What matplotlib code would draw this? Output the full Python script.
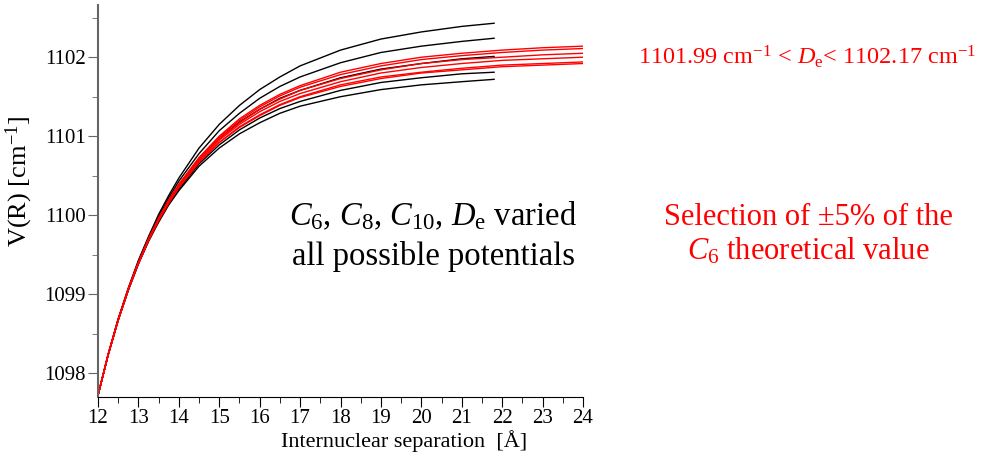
import matplotlib
matplotlib.use("Agg")
import matplotlib.pyplot as plt
from matplotlib.ticker import MultipleLocator

r_black = [12, 12.25, 12.5, 12.75, 13, 13.25, 13.5, 13.75, 14, 14.5, 15, 15.5,
           16, 16.5, 17, 18, 19, 20, 21, 21.8]
r_red = [12, 12.25, 12.5, 12.75, 13, 13.25, 13.5, 13.75, 14, 14.5, 15, 15.5,
         16, 16.5, 17, 18, 19, 20, 21, 22, 23, 24]

# all possible potentials (black)
black_curves = [
    [1097.72, 1098.24, 1098.69, 1099.08, 1099.43, 1099.73, 1100.01, 1100.25, 1100.47, 1100.85,
     1101.15, 1101.39, 1101.59, 1101.75, 1101.89, 1102.09, 1102.23, 1102.32, 1102.39, 1102.43],
    [1097.72, 1098.23, 1098.68, 1099.07, 1099.41, 1099.71, 1099.98, 1100.22, 1100.43, 1100.78,
     1101.07, 1101.29, 1101.48, 1101.63, 1101.75, 1101.93, 1102.06, 1102.14, 1102.20, 1102.24],
    [1097.72, 1098.23, 1098.68, 1099.06, 1099.40, 1099.69, 1099.95, 1100.18, 1100.38, 1100.71,
     1100.97, 1101.18, 1101.34, 1101.48, 1101.58, 1101.74, 1101.85, 1101.92, 1101.98, 1102.01],
    [1097.72, 1098.23, 1098.67, 1099.05, 1099.39, 1099.67, 1099.93, 1100.14, 1100.33, 1100.65,
     1100.89, 1101.08, 1101.23, 1101.35, 1101.44, 1101.58, 1101.68, 1101.74, 1101.79, 1101.81],
    [1097.72, 1098.23, 1098.67, 1099.05, 1099.38, 1099.67, 1099.91, 1100.13, 1100.31, 1100.62,
     1100.85, 1101.03, 1101.17, 1101.29, 1101.38, 1101.50, 1101.59, 1101.65, 1101.69, 1101.72],
]

# selection of +-5% of the C6 theoretical value (red)
red_curves = [
    [1097.72, 1098.23, 1098.68, 1099.07, 1099.40, 1099.70, 1099.96, 1100.19, 1100.39, 1100.73, 1101.00,
     1101.22, 1101.39, 1101.53, 1101.64, 1101.81, 1101.92, 1102.00, 1102.05, 1102.09, 1102.12, 1102.14],
    [1097.72, 1098.23, 1098.68, 1099.06, 1099.40, 1099.70, 1099.96, 1100.19, 1100.39, 1100.72, 1100.99,
     1101.20, 1101.37, 1101.51, 1101.62, 1101.78, 1101.89, 1101.97, 1102.02, 1102.06, 1102.09, 1102.11],
    [1097.72, 1098.23, 1098.68, 1099.06, 1099.40, 1099.69, 1099.95, 1100.18, 1100.38, 1100.71, 1100.97,
     1101.17, 1101.34, 1101.47, 1101.58, 1101.73, 1101.84, 1101.92, 1101.97, 1102.00, 1102.03, 1102.05],
    [1097.72, 1098.23, 1098.68, 1099.06, 1099.40, 1099.69, 1099.94, 1100.17, 1100.36, 1100.69, 1100.95,
     1101.15, 1101.31, 1101.44, 1101.54, 1101.69, 1101.80, 1101.87, 1101.92, 1101.96, 1101.98, 1102.00],
    [1097.72, 1098.23, 1098.67, 1099.06, 1099.39, 1099.68, 1099.94, 1100.16, 1100.35, 1100.67, 1100.92,
     1101.12, 1101.27, 1101.40, 1101.50, 1101.65, 1101.75, 1101.81, 1101.86, 1101.90, 1101.92, 1101.94],
    [1097.72, 1098.23, 1098.67, 1099.06, 1099.39, 1099.68, 1099.93, 1100.15, 1100.35, 1100.67, 1100.92,
     1101.11, 1101.26, 1101.39, 1101.49, 1101.63, 1101.73, 1101.80, 1101.84, 1101.88, 1101.90, 1101.92],
]

plt.rcParams['font.family'] = ['Liberation Serif', 'DejaVu Serif']
plt.rcParams['mathtext.fontset'] = 'custom'
plt.rcParams['mathtext.rm'] = 'Liberation Serif'
plt.rcParams['mathtext.it'] = 'Liberation Serif:italic'

fig = plt.figure(figsize=(10, 4.62), dpi=100)
ax = fig.add_axes([0.098, 0.141, 0.485, 0.848])

for v in black_curves:
    ax.plot(r_black, v, color='black', lw=1.0)
for v in red_curves:
    ax.plot(r_red, v, color='#ff0000', lw=1.0)

ax.set_xlim(12, 24)
ax.set_ylim(1097.70, 1102.66)
ax.xaxis.set_major_locator(MultipleLocator(1))
ax.xaxis.set_minor_locator(MultipleLocator(0.5))
ax.yaxis.set_major_locator(MultipleLocator(1))
ax.yaxis.set_minor_locator(MultipleLocator(0.5))

ax.spines['top'].set_visible(False)
ax.spines['right'].set_visible(False)
ax.spines['left'].set_color('#666666')
ax.spines['left'].set_linewidth(1.5)
ax.spines['bottom'].set_color('black')
ax.tick_params(which='both', direction='out', labelsize=15)
ax.tick_params(which='major', length=7, pad=2)
ax.tick_params(which='minor', length=4)
ax.tick_params(axis='y', which='both', color='#666666')

ax.set_xlabel('Internuclear separation  [Å]', fontsize=16)
ax.xaxis.set_label_coords(0.632, -0.085)
ax.set_ylabel('V(R) [cm$^{-1}$]', fontsize=19)
ax.yaxis.set_label_coords(-0.13, 0.55)

fig.text(0.433, 0.49, r'$C_6$, $C_8$, $C_{10}$, $D_\mathrm{e}$ varied' + '\nall possible potentials',
         fontsize=23.5, color='black', ha='center', va='center', linespacing=1.35)
fig.text(0.807, 0.877, r'1101.99 cm$^{-1}$ < $D_\mathrm{e}$< 1102.17 cm$^{-1}$',
         fontsize=17.5, color='#ff0000', ha='center', va='center')
fig.text(0.808, 0.492, 'Selection of ±5% of the\n' + r'$C_\mathit{6}$ theoretical value',
         fontsize=22, color='#ff0000', ha='center', va='center', linespacing=1.2)

fig.savefig('out.png', dpi=100)
